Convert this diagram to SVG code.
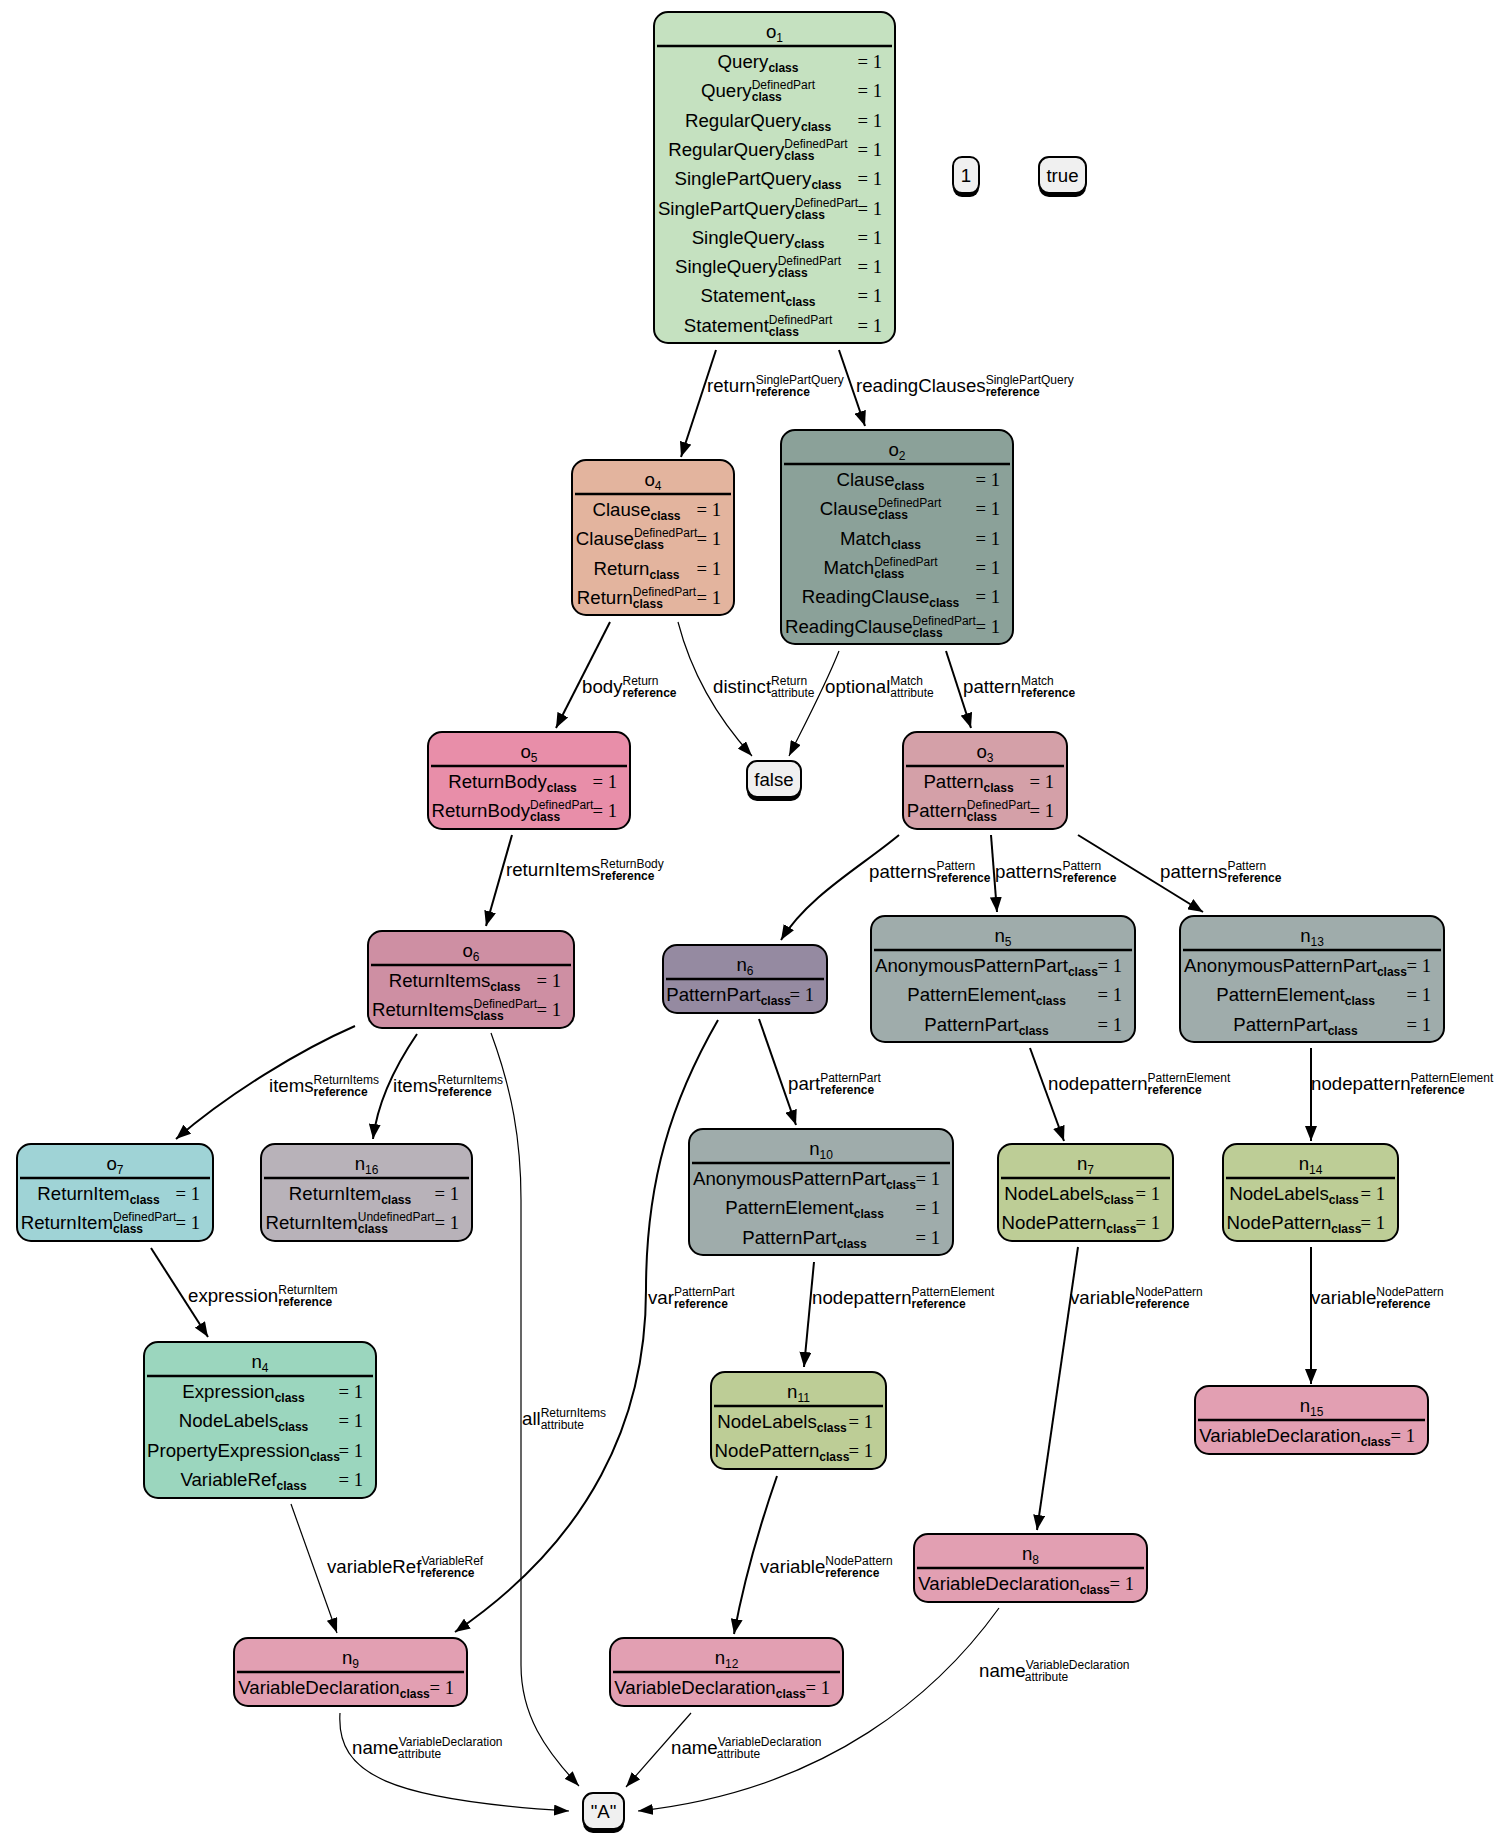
<svg xmlns="http://www.w3.org/2000/svg" width="1499" height="1843" viewBox="0 0 1499 1843">
<style>
  text { font-family: "Liberation Sans", Arial, sans-serif; font-size: 18.67px; fill: #000; }
  .m { text-anchor: middle; }
  .sp { font-size: 12px; }
  .sb { font-size: 12px; font-weight: bold; }
  .eq { font-family: "Liberation Serif", "Times New Roman", serif; font-size: 18.67px; text-anchor: end; }
  .box { stroke: #000; stroke-width: 2; }
  .div { stroke: #000; stroke-width: 2.5; }
  .val { fill: #f0f0f0; stroke: #000; stroke-width: 2; }
  .shadow { fill: #000; }
  .ref { fill: none; stroke: #000; stroke-width: 2; marker-end: url(#ah); }
  .att { fill: none; stroke: #000; stroke-width: 1.2; marker-end: url(#ah2); }
  .c-o1 { fill: #c5e1c0; }
  .c-o4 { fill: #e3b49e; }
  .c-o2 { fill: #8ba199; }
  .c-o5 { fill: #e88ea9; }
  .c-o3 { fill: #d4a0a8; }
  .c-o6 { fill: #ce8fa3; }
  .c-pp { fill: #958aa1; }
  .c-ap { fill: #9facab; }
  .c-ri { fill: #9fd3d6; }
  .c-ru { fill: #b8b2b9; }
  .c-np { fill: #bdcd96; }
  .c-ex { fill: #9bd6be; }
  .c-vd { fill: #e29fb2; }
</style>
<defs>
  <marker id="ah" markerUnits="userSpaceOnUse" markerWidth="16" markerHeight="12" refX="15" refY="6" orient="auto">
    <path d="M0,0 L15,6 L0,12 z" fill="#000"/>
  </marker>
  <marker id="ah2" markerUnits="userSpaceOnUse" markerWidth="16" markerHeight="11" refX="15" refY="5.5" orient="auto">
    <path d="M0,0 L15,5.5 L0,11 z" fill="#000"/>
  </marker>
</defs>
<rect x="0" y="0" width="1499" height="1843" fill="#fff"/>

<!-- connectors -->
<g id="edges">
  <path class="ref" d="M716,350 L681,457"/>
  <text x="707" y="392">return<tspan class="sp" dy="-8">SinglePartQuery</tspan><tspan class="sb" dx="-88.03" dy="12">reference</tspan></text>

  <path class="ref" d="M839,350 L865,426"/>
  <text x="856" y="392">readingClauses<tspan class="sp" dy="-8">SinglePartQuery</tspan><tspan class="sb" dx="-88.03" dy="12">reference</tspan></text>

  <path class="ref" d="M610,622 L556,728"/>
  <text x="582" y="693">body<tspan class="sp" dy="-8">Return</tspan><tspan class="sb" dx="-36.01" dy="12">reference</tspan></text>

  <path class="att" d="M678,622 C690,668 712,712 752,756"/>
  <text x="713" y="693">distinct<tspan class="sp" dy="-8">Return</tspan><tspan class="sp" dx="-36.01" dy="12">attribute</tspan></text>

  <path class="att" d="M839,651 C826,684 806,722 789,756"/>
  <text x="825" y="693">optional<tspan class="sp" dy="-8">Match</tspan><tspan class="sp" dx="-32.68" dy="12">attribute</tspan></text>

  <path class="ref" d="M946,651 L971,728"/>
  <text x="963" y="693">pattern<tspan class="sp" dy="-8">Match</tspan><tspan class="sb" dx="-32.68" dy="12">reference</tspan></text>

  <path class="ref" d="M512,835 L486,926"/>
  <text x="506" y="876">returnItems<tspan class="sp" dy="-8">ReturnBody</tspan><tspan class="sb" dx="-63.36" dy="12">reference</tspan></text>

  <path class="ref" d="M899,835 C862,866 808,896 781,940"/>
  <text x="869" y="878">patterns<tspan class="sp" dy="-8">Pattern</tspan><tspan class="sb" dx="-38.69" dy="12">reference</tspan></text>

  <path class="ref" d="M991,835 L997,912"/>
  <text x="995" y="878">patterns<tspan class="sp" dy="-8">Pattern</tspan><tspan class="sb" dx="-38.69" dy="12">reference</tspan></text>

  <path class="ref" d="M1078,835 L1203,912"/>
  <text x="1160" y="878">patterns<tspan class="sp" dy="-8">Pattern</tspan><tspan class="sb" dx="-38.69" dy="12">reference</tspan></text>

  <path class="ref" d="M355,1026 C300,1050 228,1094 176,1139"/>
  <text x="269" y="1092">items<tspan class="sp" dy="-8">ReturnItems</tspan><tspan class="sb" dx="-65.35" dy="12">reference</tspan></text>

  <path class="ref" d="M417,1034 C398,1062 378,1098 373,1139"/>
  <text x="393" y="1092">items<tspan class="sp" dy="-8">ReturnItems</tspan><tspan class="sb" dx="-65.35" dy="12">reference</tspan></text>

  <path class="att" d="M491,1033 C512,1090 521,1140 521,1200 L521,1665 C521,1715 545,1750 579,1786"/>
  <text x="522" y="1425">all<tspan class="sp" dy="-8">ReturnItems</tspan><tspan class="sp" dx="-65.35" dy="12">attribute</tspan></text>

  <path class="ref" d="M718,1020 C672,1100 646,1180 646,1290 C646,1420 590,1540 455,1632"/>
  <text x="648" y="1304">var<tspan class="sp" dy="-8">PatternPart</tspan><tspan class="sb" dx="-60.70" dy="12">reference</tspan></text>

  <path class="ref" d="M759,1019 L796,1125"/>
  <text x="788" y="1090">part<tspan class="sp" dy="-8">PatternPart</tspan><tspan class="sb" dx="-60.70" dy="12">reference</tspan></text>

  <path class="ref" d="M1030,1048 L1064,1141"/>
  <text x="1048" y="1090">nodepattern<tspan class="sp" dy="-8">PatternElement</tspan><tspan class="sb" dx="-82.70" dy="12">reference</tspan></text>

  <path class="ref" d="M1311,1048 L1311,1141"/>
  <text x="1311" y="1090">nodepattern<tspan class="sp" dy="-8">PatternElement</tspan><tspan class="sb" dx="-82.70" dy="12">reference</tspan></text>

  <path class="ref" d="M151,1248 L208,1337"/>
  <text x="188" y="1302">expression<tspan class="sp" dy="-8">ReturnItem</tspan><tspan class="sb" dx="-59.35" dy="12">reference</tspan></text>

  <path class="att" d="M291,1504 L337,1633"/>
  <text x="327" y="1573">variableRef<tspan class="sp" dy="-8">VariableRef</tspan><tspan class="sb" dx="-62.69" dy="12">reference</tspan></text>

  <path class="ref" d="M814,1262 L804,1367"/>
  <text x="812" y="1304">nodepattern<tspan class="sp" dy="-8">PatternElement</tspan><tspan class="sb" dx="-82.70" dy="12">reference</tspan></text>

  <path class="ref" d="M1078,1247 L1037,1530"/>
  <text x="1070" y="1304">variable<tspan class="sp" dy="-8">NodePattern</tspan><tspan class="sb" dx="-67.37" dy="12">reference</tspan></text>

  <path class="ref" d="M1311,1247 L1311,1384"/>
  <text x="1311" y="1304">variable<tspan class="sp" dy="-8">NodePattern</tspan><tspan class="sb" dx="-67.37" dy="12">reference</tspan></text>

  <path class="ref" d="M777,1476 C760,1525 744,1580 734,1634"/>
  <text x="760" y="1573">variable<tspan class="sp" dy="-8">NodePattern</tspan><tspan class="sb" dx="-67.37" dy="12">reference</tspan></text>

  <path class="att" d="M340,1713 C336,1775 390,1800 569,1811"/>
  <text x="352" y="1754">name<tspan class="sp" dy="-8">VariableDeclaration</tspan><tspan class="sp" dx="-104.70" dy="12">attribute</tspan></text>

  <path class="att" d="M691,1713 L626,1787"/>
  <text x="671" y="1754">name<tspan class="sp" dy="-8">VariableDeclaration</tspan><tspan class="sp" dx="-104.70" dy="12">attribute</tspan></text>

  <path class="att" d="M999,1608 C940,1690 830,1790 638,1811"/>
  <text x="979" y="1677">name<tspan class="sp" dy="-8">VariableDeclaration</tspan><tspan class="sp" dx="-104.70" dy="12">attribute</tspan></text>
</g>

<!-- object nodes -->
<g id="o1">
  <rect class="box c-o1" x="654" y="12" width="241" height="331" rx="14"/>
  <text class="m" x="774.5" y="37.5">o<tspan class="sp" dy="4">1</tspan></text>
  <line class="div" x1="657" y1="46" x2="892" y2="46"/>
  <text class="m" x="758" y="68">Query<tspan class="sb" dy="4">class</tspan></text>
  <text x="700.9" y="97.3">Query<tspan class="sp" dy="-8">DefinedPart</tspan><tspan class="sb" dx="-63.36" dy="12">class</tspan></text>
  <text class="m" x="758" y="126.6">RegularQuery<tspan class="sb" dy="4">class</tspan></text>
  <text x="668.2" y="155.9">RegularQuery<tspan class="sp" dy="-8">DefinedPart</tspan><tspan class="sb" dx="-63.36" dy="12">class</tspan></text>
  <text class="m" x="758" y="185.2">SinglePartQuery<tspan class="sb" dy="4">class</tspan></text>
  <text x="657.9" y="214.5">SinglePartQuery<tspan class="sp" dy="-8">DefinedPart</tspan><tspan class="sb" dx="-63.36" dy="12">class</tspan></text>
  <text class="m" x="758" y="243.8">SingleQuery<tspan class="sb" dy="4">class</tspan></text>
  <text x="675" y="273.1">SingleQuery<tspan class="sp" dy="-8">DefinedPart</tspan><tspan class="sb" dx="-63.36" dy="12">class</tspan></text>
  <text class="m" x="758" y="302.4">Statement<tspan class="sb" dy="4">class</tspan></text>
  <text x="683.8" y="331.7">Statement<tspan class="sp" dy="-8">DefinedPart</tspan><tspan class="sb" dx="-63.36" dy="12">class</tspan></text>
  <text class="eq" x="882" y="68">= 1</text>
  <text class="eq" x="882" y="97.3">= 1</text>
  <text class="eq" x="882" y="126.6">= 1</text>
  <text class="eq" x="882" y="155.9">= 1</text>
  <text class="eq" x="882" y="185.2">= 1</text>
  <text class="eq" x="882" y="214.5">= 1</text>
  <text class="eq" x="882" y="243.8">= 1</text>
  <text class="eq" x="882" y="273.1">= 1</text>
  <text class="eq" x="882" y="302.4">= 1</text>
  <text class="eq" x="882" y="331.7">= 1</text>
</g>

<g id="v_1">
  <rect class="shadow" x="953" y="161" width="26" height="36" rx="9"/>
  <rect class="val" x="953" y="157" width="26" height="36" rx="9"/>
  <text class="m" x="966" y="182">1</text>
</g>

<g id="v_true">
  <rect class="shadow" x="1039" y="161" width="47" height="36" rx="10"/>
  <rect class="val" x="1039" y="157" width="47" height="36" rx="10"/>
  <text class="m" x="1062.5" y="182">true</text>
</g>

<g id="o4">
  <rect class="box c-o4" x="572" y="460" width="162" height="155" rx="14"/>
  <text class="m" x="653" y="485.5">o<tspan class="sp" dy="4">4</tspan></text>
  <line class="div" x1="575" y1="494" x2="731" y2="494"/>
  <text class="m" x="636.5" y="516">Clause<tspan class="sb" dy="4">class</tspan></text>
  <text x="575.8" y="545.3">Clause<tspan class="sp" dy="-8">DefinedPart</tspan><tspan class="sb" dx="-63.36" dy="12">class</tspan></text>
  <text class="m" x="636.5" y="574.6">Return<tspan class="sb" dy="4">class</tspan></text>
  <text x="576.8" y="603.9">Return<tspan class="sp" dy="-8">DefinedPart</tspan><tspan class="sb" dx="-63.36" dy="12">class</tspan></text>
  <text class="eq" x="721" y="516">= 1</text>
  <text class="eq" x="721" y="545.3">= 1</text>
  <text class="eq" x="721" y="574.6">= 1</text>
  <text class="eq" x="721" y="603.9">= 1</text>
</g>

<g id="o2">
  <rect class="box c-o2" x="781" y="430" width="232" height="214" rx="14"/>
  <text class="m" x="897" y="455.5">o<tspan class="sp" dy="4">2</tspan></text>
  <line class="div" x1="784" y1="464" x2="1010" y2="464"/>
  <text class="m" x="880.5" y="486">Clause<tspan class="sb" dy="4">class</tspan></text>
  <text x="819.8" y="515.3">Clause<tspan class="sp" dy="-8">DefinedPart</tspan><tspan class="sb" dx="-63.36" dy="12">class</tspan></text>
  <text class="m" x="880.5" y="544.6">Match<tspan class="sb" dy="4">class</tspan></text>
  <text x="823.4" y="573.9">Match<tspan class="sp" dy="-8">DefinedPart</tspan><tspan class="sb" dx="-63.36" dy="12">class</tspan></text>
  <text class="m" x="880.5" y="603.2">ReadingClause<tspan class="sb" dy="4">class</tspan></text>
  <text x="785" y="632.5">ReadingClause<tspan class="sp" dy="-8">DefinedPart</tspan><tspan class="sb" dx="-63.36" dy="12">class</tspan></text>
  <text class="eq" x="1000" y="486">= 1</text>
  <text class="eq" x="1000" y="515.3">= 1</text>
  <text class="eq" x="1000" y="544.6">= 1</text>
  <text class="eq" x="1000" y="573.9">= 1</text>
  <text class="eq" x="1000" y="603.2">= 1</text>
  <text class="eq" x="1000" y="632.5">= 1</text>
</g>

<g id="o5">
  <rect class="box c-o5" x="428" y="732" width="202" height="97" rx="14"/>
  <text class="m" x="529" y="757.5">o<tspan class="sp" dy="4">5</tspan></text>
  <line class="div" x1="431" y1="766" x2="627" y2="766"/>
  <text class="m" x="512.5" y="788">ReturnBody<tspan class="sb" dy="4">class</tspan></text>
  <text x="431.5" y="817.3">ReturnBody<tspan class="sp" dy="-8">DefinedPart</tspan><tspan class="sb" dx="-63.36" dy="12">class</tspan></text>
  <text class="eq" x="617" y="788">= 1</text>
  <text class="eq" x="617" y="817.3">= 1</text>
</g>

<g id="v_false">
  <rect class="shadow" x="747" y="765" width="54" height="36" rx="10"/>
  <rect class="val" x="747" y="761" width="54" height="36" rx="10"/>
  <text class="m" x="774" y="786">false</text>
</g>

<g id="o3">
  <rect class="box c-o3" x="903" y="732" width="164" height="97" rx="14"/>
  <text class="m" x="985" y="757.5">o<tspan class="sp" dy="4">3</tspan></text>
  <line class="div" x1="906" y1="766" x2="1064" y2="766"/>
  <text class="m" x="968.5" y="788">Pattern<tspan class="sb" dy="4">class</tspan></text>
  <text x="906.7" y="817.3">Pattern<tspan class="sp" dy="-8">DefinedPart</tspan><tspan class="sb" dx="-63.36" dy="12">class</tspan></text>
  <text class="eq" x="1054" y="788">= 1</text>
  <text class="eq" x="1054" y="817.3">= 1</text>
</g>

<g id="o6">
  <rect class="box c-o6" x="368" y="931" width="206" height="97" rx="14"/>
  <text class="m" x="471" y="956.5">o<tspan class="sp" dy="4">6</tspan></text>
  <line class="div" x1="371" y1="965" x2="571" y2="965"/>
  <text class="m" x="454.5" y="987">ReturnItems<tspan class="sb" dy="4">class</tspan></text>
  <text x="372" y="1016.3">ReturnItems<tspan class="sp" dy="-8">DefinedPart</tspan><tspan class="sb" dx="-63.36" dy="12">class</tspan></text>
  <text class="eq" x="561" y="987">= 1</text>
  <text class="eq" x="561" y="1016.3">= 1</text>
</g>

<g id="n6">
  <rect class="box c-pp" x="663" y="945" width="164" height="68" rx="14"/>
  <text class="m" x="745" y="970.5">n<tspan class="sp" dy="4">6</tspan></text>
  <line class="div" x1="666" y1="979" x2="824" y2="979"/>
  <text class="m" x="728.5" y="1001">PatternPart<tspan class="sb" dy="4">class</tspan></text>
  <text class="eq" x="814" y="1001">= 1</text>
</g>

<g id="n5">
  <rect class="box c-ap" x="871" y="916" width="264" height="126" rx="14"/>
  <text class="m" x="1003" y="941.5">n<tspan class="sp" dy="4">5</tspan></text>
  <line class="div" x1="874" y1="950" x2="1132" y2="950"/>
  <text class="m" x="986.5" y="972">AnonymousPatternPart<tspan class="sb" dy="4">class</tspan></text>
  <text class="m" x="986.5" y="1001.3">PatternElement<tspan class="sb" dy="4">class</tspan></text>
  <text class="m" x="986.5" y="1030.6">PatternPart<tspan class="sb" dy="4">class</tspan></text>
  <text class="eq" x="1122" y="972">= 1</text>
  <text class="eq" x="1122" y="1001.3">= 1</text>
  <text class="eq" x="1122" y="1030.6">= 1</text>
</g>

<g id="n13">
  <rect class="box c-ap" x="1180" y="916" width="264" height="126" rx="14"/>
  <text class="m" x="1312" y="941.5">n<tspan class="sp" dy="4">13</tspan></text>
  <line class="div" x1="1183" y1="950" x2="1441" y2="950"/>
  <text class="m" x="1295.5" y="972">AnonymousPatternPart<tspan class="sb" dy="4">class</tspan></text>
  <text class="m" x="1295.5" y="1001.3">PatternElement<tspan class="sb" dy="4">class</tspan></text>
  <text class="m" x="1295.5" y="1030.6">PatternPart<tspan class="sb" dy="4">class</tspan></text>
  <text class="eq" x="1431" y="972">= 1</text>
  <text class="eq" x="1431" y="1001.3">= 1</text>
  <text class="eq" x="1431" y="1030.6">= 1</text>
</g>

<g id="o7">
  <rect class="box c-ri" x="17" y="1144" width="196" height="97" rx="14"/>
  <text class="m" x="115" y="1169.5">o<tspan class="sp" dy="4">7</tspan></text>
  <line class="div" x1="20" y1="1178" x2="210" y2="1178"/>
  <text class="m" x="98.5" y="1200">ReturnItem<tspan class="sb" dy="4">class</tspan></text>
  <text x="20.7" y="1229.3">ReturnItem<tspan class="sp" dy="-8">DefinedPart</tspan><tspan class="sb" dx="-63.36" dy="12">class</tspan></text>
  <text class="eq" x="200" y="1200">= 1</text>
  <text class="eq" x="200" y="1229.3">= 1</text>
</g>

<g id="n16">
  <rect class="box c-ru" x="261" y="1144" width="211" height="97" rx="14"/>
  <text class="m" x="366.5" y="1169.5">n<tspan class="sp" dy="4">16</tspan></text>
  <line class="div" x1="264" y1="1178" x2="469" y2="1178"/>
  <text class="m" x="350" y="1200">ReturnItem<tspan class="sb" dy="4">class</tspan></text>
  <text x="265.5" y="1229.3">ReturnItem<tspan class="sp" dy="-8">UndefinedPart</tspan><tspan class="sb" dx="-76.70" dy="12">class</tspan></text>
  <text class="eq" x="459" y="1200">= 1</text>
  <text class="eq" x="459" y="1229.3">= 1</text>
</g>

<g id="n10">
  <rect class="box c-ap" x="689" y="1129" width="264" height="126" rx="14"/>
  <text class="m" x="821" y="1154.5">n<tspan class="sp" dy="4">10</tspan></text>
  <line class="div" x1="692" y1="1163" x2="950" y2="1163"/>
  <text class="m" x="804.5" y="1185">AnonymousPatternPart<tspan class="sb" dy="4">class</tspan></text>
  <text class="m" x="804.5" y="1214.3">PatternElement<tspan class="sb" dy="4">class</tspan></text>
  <text class="m" x="804.5" y="1243.6">PatternPart<tspan class="sb" dy="4">class</tspan></text>
  <text class="eq" x="940" y="1185">= 1</text>
  <text class="eq" x="940" y="1214.3">= 1</text>
  <text class="eq" x="940" y="1243.6">= 1</text>
</g>

<g id="n7">
  <rect class="box c-np" x="998" y="1144" width="175" height="97" rx="14"/>
  <text class="m" x="1085.5" y="1169.5">n<tspan class="sp" dy="4">7</tspan></text>
  <line class="div" x1="1001" y1="1178" x2="1170" y2="1178"/>
  <text class="m" x="1069" y="1200">NodeLabels<tspan class="sb" dy="4">class</tspan></text>
  <text class="m" x="1069" y="1229.3">NodePattern<tspan class="sb" dy="4">class</tspan></text>
  <text class="eq" x="1160" y="1200">= 1</text>
  <text class="eq" x="1160" y="1229.3">= 1</text>
</g>

<g id="n14">
  <rect class="box c-np" x="1223" y="1144" width="175" height="97" rx="14"/>
  <text class="m" x="1310.5" y="1169.5">n<tspan class="sp" dy="4">14</tspan></text>
  <line class="div" x1="1226" y1="1178" x2="1395" y2="1178"/>
  <text class="m" x="1294" y="1200">NodeLabels<tspan class="sb" dy="4">class</tspan></text>
  <text class="m" x="1294" y="1229.3">NodePattern<tspan class="sb" dy="4">class</tspan></text>
  <text class="eq" x="1385" y="1200">= 1</text>
  <text class="eq" x="1385" y="1229.3">= 1</text>
</g>

<g id="n4">
  <rect class="box c-ex" x="144" y="1342" width="232" height="156" rx="14"/>
  <text class="m" x="260" y="1367.5">n<tspan class="sp" dy="4">4</tspan></text>
  <line class="div" x1="147" y1="1376" x2="373" y2="1376"/>
  <text class="m" x="243.5" y="1398">Expression<tspan class="sb" dy="4">class</tspan></text>
  <text class="m" x="243.5" y="1427.3">NodeLabels<tspan class="sb" dy="4">class</tspan></text>
  <text class="m" x="243.5" y="1456.6">PropertyExpression<tspan class="sb" dy="4">class</tspan></text>
  <text class="m" x="243.5" y="1485.9">VariableRef<tspan class="sb" dy="4">class</tspan></text>
  <text class="eq" x="363" y="1398">= 1</text>
  <text class="eq" x="363" y="1427.3">= 1</text>
  <text class="eq" x="363" y="1456.6">= 1</text>
  <text class="eq" x="363" y="1485.9">= 1</text>
</g>

<g id="n11">
  <rect class="box c-np" x="711" y="1372" width="175" height="97" rx="14"/>
  <text class="m" x="798.5" y="1397.5">n<tspan class="sp" dy="4">11</tspan></text>
  <line class="div" x1="714" y1="1406" x2="883" y2="1406"/>
  <text class="m" x="782" y="1428">NodeLabels<tspan class="sb" dy="4">class</tspan></text>
  <text class="m" x="782" y="1457.3">NodePattern<tspan class="sb" dy="4">class</tspan></text>
  <text class="eq" x="873" y="1428">= 1</text>
  <text class="eq" x="873" y="1457.3">= 1</text>
</g>

<g id="n15">
  <rect class="box c-vd" x="1195" y="1386" width="233" height="68" rx="14"/>
  <text class="m" x="1311.5" y="1411.5">n<tspan class="sp" dy="4">15</tspan></text>
  <line class="div" x1="1198" y1="1420" x2="1425" y2="1420"/>
  <text class="m" x="1295" y="1442">VariableDeclaration<tspan class="sb" dy="4">class</tspan></text>
  <text class="eq" x="1415" y="1442">= 1</text>
</g>

<g id="n8">
  <rect class="box c-vd" x="914" y="1534" width="233" height="68" rx="14"/>
  <text class="m" x="1030.5" y="1559.5">n<tspan class="sp" dy="4">8</tspan></text>
  <line class="div" x1="917" y1="1568" x2="1144" y2="1568"/>
  <text class="m" x="1014" y="1590">VariableDeclaration<tspan class="sb" dy="4">class</tspan></text>
  <text class="eq" x="1134" y="1590">= 1</text>
</g>

<g id="n9">
  <rect class="box c-vd" x="234" y="1638" width="233" height="68" rx="14"/>
  <text class="m" x="350.5" y="1663.5">n<tspan class="sp" dy="4">9</tspan></text>
  <line class="div" x1="237" y1="1672" x2="464" y2="1672"/>
  <text class="m" x="334" y="1694">VariableDeclaration<tspan class="sb" dy="4">class</tspan></text>
  <text class="eq" x="454" y="1694">= 1</text>
</g>

<g id="n12">
  <rect class="box c-vd" x="610" y="1638" width="233" height="68" rx="14"/>
  <text class="m" x="726.5" y="1663.5">n<tspan class="sp" dy="4">12</tspan></text>
  <line class="div" x1="613" y1="1672" x2="840" y2="1672"/>
  <text class="m" x="710" y="1694">VariableDeclaration<tspan class="sb" dy="4">class</tspan></text>
  <text class="eq" x="830" y="1694">= 1</text>
</g>

<g id="v_A">
  <rect class="shadow" x="583" y="1797" width="41" height="36" rx="10"/>
  <rect class="val" x="583" y="1793" width="41" height="36" rx="10"/>
  <text class="m" x="603.5" y="1818">"A"</text>
</g>
</svg>
